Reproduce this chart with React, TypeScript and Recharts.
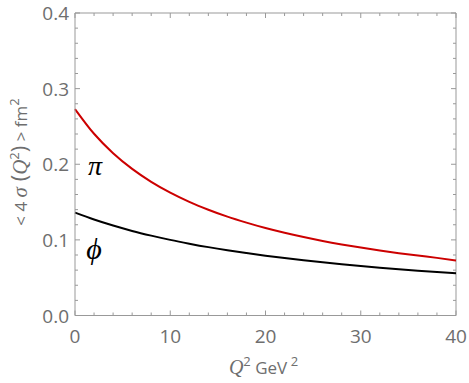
import { LineChart, Line, XAxis, YAxis, ReferenceDot, ReferenceArea, ReferenceLine, Label } from 'recharts'

// Q^2 in GeV^2
const q2 = [0, 2, 4, 6, 8, 10, 12, 14, 16, 18, 20, 22, 24, 26, 28, 30, 32, 34, 36, 38, 40]
// <4 sigma(Q^2)> in fm^2
const piValues = [
  0.273, 0.2403, 0.2146, 0.1939, 0.1768, 0.1625, 0.1503, 0.1399, 0.1307, 0.1228, 0.1156,
  0.1093, 0.1037, 0.0986, 0.094, 0.0898, 0.0859, 0.0824, 0.0792, 0.0762, 0.0728,
]
const phiValues = [
  0.136, 0.1269, 0.1189, 0.1118, 0.1056, 0.1, 0.095, 0.0904, 0.0863, 0.0826, 0.0791,
  0.0759, 0.073, 0.0703, 0.0678, 0.0654, 0.0632, 0.0612, 0.0593, 0.0575, 0.0558,
]

const xTicks = [0, 2, 4, 6, 8, 10, 12, 14, 16, 18, 20, 22, 24, 26, 28, 30, 32, 34, 36, 38, 40]
const yTicks = [
  0, 0.02, 0.04, 0.06, 0.08, 0.1, 0.12, 0.14, 0.16, 0.18, 0.2, 0.22, 0.24, 0.26, 0.28, 0.3,
  0.32, 0.34, 0.36, 0.38, 0.4,
]
const xDomain = [0, 40]
const yDomain = [0, 0.4]

const data = q2.map((q, i) => ({ q2: q, pi: piValues[i], phi: phiValues[i] }))

const axisColor = '#999'
const labelColor = '#6e6e6e'
const font = "'Open Sans', 'Liberation Sans', sans-serif"
const serif = "'Liberation Serif', 'DejaVu Serif', serif"

const isMajorX = (v: number) => v % 10 === 0
const isMajorY = (v: number) => Math.abs(v * 10 - Math.round(v * 10)) < 1e-6

const BottomTick = ({ x, y, payload }: any) => {
  const major = isMajorX(payload.value)
  return (
    <g>
      <path d={`M${x},${y}V${y - (major ? 5 : 3)}`} stroke={axisColor} strokeWidth={1} fill="none" />
      {major && (
        <text x={x} y={y + 27} textAnchor="middle" fontSize={19} fill={labelColor} fontFamily={font}>
          {payload.value}
        </text>
      )}
    </g>
  )
}

const LeftTick = ({ x, y, payload }: any) => {
  const major = isMajorY(payload.value)
  return (
    <g>
      <path d={`M${x},${y}H${x + (major ? 5 : 3)}`} stroke={axisColor} strokeWidth={1} fill="none" />
      {major && (
        <text x={x - 6} y={y + 7} textAnchor="end" fontSize={19} fill={labelColor} fontFamily={font}>
          {payload.value.toFixed(1)}
        </text>
      )}
    </g>
  )
}

// inward ticks on the top and right edges of the frame
const FrameShape = ({ x, y, width, height }: any) => {
  const px = (v: number) => x + ((v - xDomain[0]) / (xDomain[1] - xDomain[0])) * width
  const py = (v: number) => y + height - ((v - yDomain[0]) / (yDomain[1] - yDomain[0])) * height
  const d =
    xTicks.map((t) => `M${px(t)},${y}V${y + (isMajorX(t) ? 5 : 3)}`).join('') +
    yTicks.map((t) => `M${x + width},${py(t)}H${x + width - (isMajorY(t) ? 5 : 3)}`).join('')
  return <path d={d} stroke={axisColor} strokeWidth={1} fill="none" />
}

const XTitle = ({ viewBox }: any) => {
  const cx = viewBox.x + viewBox.width / 2 - 2
  return (
    <text x={cx} y={374} textAnchor="middle" fontSize={17} fill={labelColor} fontFamily={font}>
      <tspan fontFamily={serif} fontStyle="italic" fontSize={20}>Q</tspan>
      <tspan dy={-8} fontSize={13}>2</tspan>
      <tspan dy={8}> GeV</tspan>
      <tspan dy={-8} fontSize={13}> 2</tspan>
    </text>
  )
}

const YTitle = () => (
  <g transform="translate(27, 162)">
    <text x={0} y={0} transform="rotate(-90)" textAnchor="middle" fontSize={17} fill={labelColor} fontFamily={font}>
      <tspan>{'< 4 '}</tspan>
      <tspan fontFamily={serif} fontStyle="italic" fontSize={21}>σ</tspan>
      <tspan fontSize={22}>{' ('}</tspan>
      <tspan fontFamily={serif} fontStyle="italic" fontSize={21}>Q</tspan>
      <tspan dy={-8} fontSize={13}>2</tspan>
      <tspan dy={8} fontSize={22}>{')'}</tspan>
      <tspan>{' > fm'}</tspan>
      <tspan dy={-8} fontSize={13}>2</tspan>
    </text>
  </g>
)

const GreekLabel = ({ cx, cy, text, size }: any) => (
  <text x={cx} y={cy} textAnchor="middle" fontSize={size} fontStyle="italic" fontFamily={serif} fill="#000">
    {text}
  </text>
)

export default function App() {
  return (
    <div style={{ position: 'absolute', left: 0, top: 0, width: 469, height: 383, background: '#fff' }}>
      <LineChart width={469} height={383} data={data} margin={{ top: 13, right: 13, bottom: 0, left: 0 }}>
        <XAxis
          dataKey="q2"
          type="number"
          domain={xDomain}
          ticks={xTicks}
          interval={0}
          height={67.5}
          stroke={axisColor}
          tickSize={0}
          tickMargin={0}
          tick={<BottomTick />}
        >
          <Label content={<XTitle />} />
        </XAxis>
        <YAxis
          type="number"
          domain={yDomain}
          ticks={yTicks}
          interval={0}
          width={75}
          stroke={axisColor}
          tickSize={0}
          tickMargin={0}
          tick={<LeftTick />}
        >
          <Label content={<YTitle />} />
        </YAxis>
        <ReferenceLine y={yDomain[1]} stroke={axisColor} />
        <ReferenceLine x={xDomain[1]} stroke={axisColor} />
        <ReferenceArea
          x1={xDomain[0]}
          x2={xDomain[1]}
          y1={yDomain[0]}
          y2={yDomain[1]}
          fill="none"
          stroke="none"
          shape={(p: any) => <FrameShape {...p} />}
        />
        <Line type="monotone" dataKey="pi" stroke="#cc0000" strokeWidth={2} dot={false} isAnimationActive={false} />
        <Line type="monotone" dataKey="phi" stroke="#000" strokeWidth={2} dot={false} isAnimationActive={false} />
        <ReferenceDot
          x={2.1}
          y={0.186}
          r={0}
          shape={(p: any) => <GreekLabel cx={p.cx} cy={p.cy} text="π" size={28} />}
        />
        <ReferenceDot
          x={2}
          y={0.075}
          r={0}
          shape={(p: any) => <GreekLabel cx={p.cx} cy={p.cy} text="ϕ" size={30} />}
        />
      </LineChart>
    </div>
  )
}
